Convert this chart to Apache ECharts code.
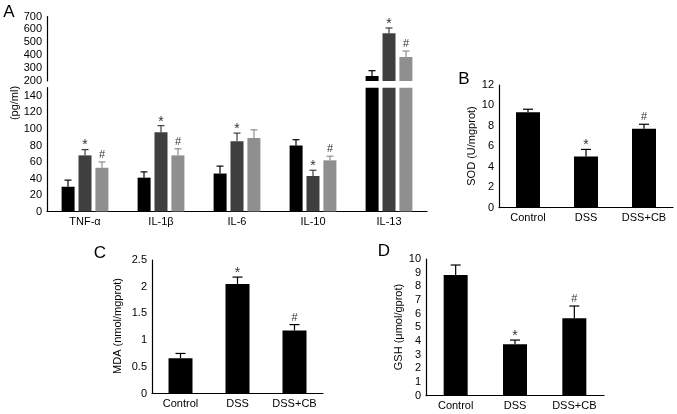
<!DOCTYPE html>
<html><head><meta charset="utf-8">
<script src="https://cdn.jsdelivr.net/npm/echarts@6/dist/echarts.min.js"></script>
<style>html,body{margin:0;padding:0;background:#fff}#c{width:677px;height:414px}</style>
</head><body><div id="c"></div>
<script>
// ---- Panel A: cytokines (pg/ml) ----
const cytokines = ['TNF-α', 'IL-1β', 'IL-6', 'IL-10', 'IL-13'];
const controlA = [30, 41, 46, 80, 239];
const controlASd = [8, 7, 9, 7, 41];
const dssA = [68, 96, 85, 43, 570];
const dssASd = [7, 8, 10, 7, 41];
const cbA = [53, 68, 89, 62, 386];
const cbASd = [7, 8, 10, 5, 46];
const dssAMarks = ['*', '*', '*', '*', '*'];
const cbAMarks = ['#', '#', '', '#', '#'];
const lowerTicks = [0, 20, 40, 60, 80, 100, 120, 140];
const upperTicks = [200, 300, 400, 500, 600, 700];

// ---- Panels B, C, D ----
const groups = ['Control', 'DSS', 'DSS+CB'];
const sod = [9.33, 5.0, 7.73];
const sodSd = [0.3, 0.7, 0.43];
const mda = [0.66, 2.05, 1.18];
const mdaSd = [0.09, 0.13, 0.11];
const gsh = [8.83, 3.76, 5.66];
const gshSd = [0.73, 0.31, 0.9];
const groupMarks = ['', '*', '#'];

const FONT = '"Liberation Sans", Arial, sans-serif';
const BLACK = '#000000', DARK = '#3f3f3f', LIGHT = '#8f8f8f';

function errSeries(xi, yi, means, sds, marks, color, offset, capHalf) {
  return {
    type: 'custom', xAxisIndex: xi, yAxisIndex: yi, z: 5,
    data: means.map((m, i) => [i, m, sds[i]]),
    renderItem: function (params, api) {
      const cs = params.coordSys;
      const i = api.value(0), m = api.value(1), sd = api.value(2);
      const p1 = api.coord([i, m]);
      const p2 = api.coord([i, m + sd]);
      if (p1[1] > cs.y + cs.height + 0.5 || p2[1] < cs.y - 0.5) return null;
      const x = p1[0] + offset;
      const children = [
        {type: 'line', shape: {x1: x, y1: p1[1], x2: x, y2: p2[1]}, style: {stroke: color, lineWidth: 1.2}},
        {type: 'line', shape: {x1: x - capHalf, y1: p2[1], x2: x + capHalf, y2: p2[1]}, style: {stroke: color, lineWidth: 1.2}}
      ];
      const mk = marks ? marks[params.dataIndex] : '';
      if (mk) {
        const star = mk === '*';
        children.push({type: 'text', x: x, y: p2[1] - (star ? -3 : 1.5),
          style: {text: mk, fill: '#333', font: (star ? '14px ' : '11px ') + FONT, align: 'center', verticalAlign: 'bottom'}});
      }
      return {type: 'group', children: children};
    }
  };
}

function catAxis(gi, data, show) {
  return {type: 'category', gridIndex: gi, data: data, show: show !== false,
    axisLine: {lineStyle: {color: '#000', width: 1.2}}, axisTick: {show: false},
    axisLabel: {color: '#000', fontFamily: FONT, fontSize: 11, margin: 5, interval: 0}};
}
function valAxis(gi, min, max, interval, extra) {
  return Object.assign({type: 'value', gridIndex: gi, min: min, max: max, interval: interval,
    axisLine: {show: true, lineStyle: {color: '#000', width: 1.2}}, axisTick: {show: false},
    splitLine: {show: false},
    axisLabel: {color: '#000', fontFamily: FONT, fontSize: 11, margin: 5}}, extra || {});
}
function bar(xi, yi, data, color, w, gap) {
  return {type: 'bar', xAxisIndex: xi, yAxisIndex: yi, data: data, barWidth: w, barGap: gap,
    itemStyle: {color: color}, clip: true, silent: true};
}
function txt(x, y, t, size, rot) {
  return {type: 'text', x: x, y: y, rotation: rot || 0,
    style: {text: t, fill: '#000', font: size + 'px ' + FONT, align: 'center', verticalAlign: 'middle'}};
}

const chart = echarts.init(document.getElementById('c'));
chart.setOption({
  animation: false,
  backgroundColor: '#fff',
  grid: [
    {left: 47, top: 87.7, width: 380, height: 123.8},   // A lower
    {left: 47, top: 16.5, width: 380, height: 64.5},    // A upper
    {left: 499, top: 85, width: 174, height: 122.7},    // B
    {left: 152, top: 260, width: 171, height: 133.5},   // C
    {left: 426, top: 259, width: 178, height: 136.7}    // D
  ],
  xAxis: [
    catAxis(0, cytokines),
    catAxis(1, cytokines, false),
    catAxis(2, groups),
    catAxis(3, groups),
    catAxis(4, groups)
  ],
  yAxis: [
    valAxis(0, lowerTicks[0], 150, lowerTicks[1] - lowerTicks[0], {axisLabel: {color: '#000', fontFamily: FONT, fontSize: 11, margin: 5, showMaxLabel: false}}),
    valAxis(1, upperTicks[0], upperTicks[upperTicks.length - 1], upperTicks[1] - upperTicks[0]),
    valAxis(2, 0, 12, 2),
    valAxis(3, 0, 2.5, 0.5),
    valAxis(4, 0, 10, 1)
  ],
  graphic: [
    txt(9, 12.5, 'A', 17), txt(464, 79, 'B', 17), txt(100, 253, 'C', 17), txt(384, 251, 'D', 17),
    txt(15, 103, '(pg/ml)', 11, Math.PI / 2),
    txt(472, 146, 'SOD (U/mgprot)', 11, Math.PI / 2),
    txt(118, 326, 'MDA (nmol/mgprot)', 11, Math.PI / 2),
    txt(399, 327, 'GSH (μmol/gprot)', 11, Math.PI / 2)
  ],
  series: [
    bar(0, 0, controlA, BLACK, 13, '30%'), bar(0, 0, dssA, DARK, 13, '30%'), bar(0, 0, cbA, LIGHT, 13, '30%'),
    bar(1, 1, controlA, BLACK, 13, '30%'), bar(1, 1, dssA, DARK, 13, '30%'), bar(1, 1, cbA, LIGHT, 13, '30%'),
    errSeries(0, 0, controlA, controlASd, null, BLACK, -17, 3.5),
    errSeries(0, 0, dssA, dssASd, dssAMarks, DARK, 0, 3.5),
    errSeries(0, 0, cbA, cbASd, cbAMarks, LIGHT, 17, 3.5),
    errSeries(1, 1, controlA, controlASd, null, BLACK, -17, 3.5),
    errSeries(1, 1, dssA, dssASd, dssAMarks, DARK, 0, 3.5),
    errSeries(1, 1, cbA, cbASd, cbAMarks, LIGHT, 17, 3.5),
    bar(2, 2, sod, BLACK, 24), errSeries(2, 2, sod, sodSd, groupMarks, BLACK, 0, 5),
    bar(3, 3, mda, BLACK, 24), errSeries(3, 3, mda, mdaSd, groupMarks, BLACK, 0, 5),
    bar(4, 4, gsh, BLACK, 24), errSeries(4, 4, gsh, gshSd, groupMarks, BLACK, 0, 5)
  ]
});
</script>
</body></html>
